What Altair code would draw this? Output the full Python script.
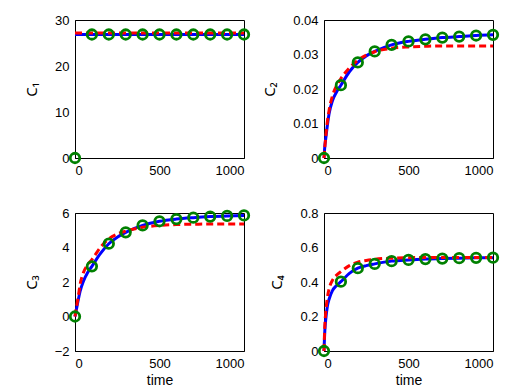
import altair as alt
import pandas as pd

# Time grid used for the continuous curves and the sampled observations
CURVE_T = [0, 5, 10, 20, 30, 50, 75, 100, 150, 200, 250, 300, 400, 500, 600, 700, 800, 900, 1000]
OBS_T = [0, 100, 200, 300, 400, 500, 600, 700, 800, 900, 1000]

# C1: both curves sit on a plateau from the start
c1_model_t = [0, 1000]
c1_model = [26.85, 26.85]
c1_fit_t = [0, 1000]
c1_fit = [27.15, 27.15]
c1_obs = [0, 26.85, 26.85, 26.85, 26.85, 26.85, 26.85, 26.85, 26.85, 26.85, 26.85]

# C2
c2_model = [0, 0.0035, 0.0055, 0.0095, 0.0128, 0.0166, 0.0192, 0.0211, 0.0250, 0.0277, 0.0296,
            0.0309, 0.0328, 0.0338, 0.0344, 0.0349, 0.0352, 0.0355, 0.0357]
c2_fit = [0, 0.0032, 0.0060, 0.0105, 0.0138, 0.0180, 0.0210, 0.0230, 0.0261, 0.0283, 0.0298,
          0.0308, 0.0318, 0.0322, 0.0324, 0.0325, 0.0325, 0.0325, 0.0325]
c2_obs = [0, 0.0211, 0.0277, 0.0309, 0.0328, 0.0338, 0.0344, 0.0349, 0.0352, 0.0355, 0.0357]

# C3
c3_model = [0, 0.25, 0.5, 1.0, 1.45, 2.05, 2.55, 2.91, 3.65, 4.22, 4.6,
            4.88, 5.28, 5.52, 5.65, 5.73, 5.79, 5.83, 5.86]
c3_fit = [0, 0.3, 0.6, 1.2, 1.85, 2.55, 3.0, 3.3, 4.0, 4.5, 4.78,
          4.95, 5.17, 5.28, 5.33, 5.35, 5.36, 5.36, 5.36]
c3_obs = [0, 2.91, 4.22, 4.88, 5.28, 5.52, 5.65, 5.73, 5.79, 5.83, 5.86]

# C4
c4_model = [0, 0.12, 0.18, 0.26, 0.30, 0.35, 0.38, 0.402, 0.45, 0.48, 0.495,
            0.505, 0.521, 0.528, 0.533, 0.536, 0.538, 0.540, 0.541]
c4_fit = [0, 0.15, 0.22, 0.31, 0.36, 0.41, 0.44, 0.46, 0.495, 0.515, 0.525,
          0.532, 0.538, 0.541, 0.542, 0.542, 0.542, 0.542, 0.542]
c4_obs = [0, 0.402, 0.48, 0.505, 0.521, 0.528, 0.533, 0.536, 0.538, 0.540, 0.541]

BLUE = "#0000ff"
RED = "#ff0000"
GREEN = "#008000"
FONT = "Liberation Sans"
TITLE_FONT = "Noto Sans"


def panel(ytitle, model_t, model_v, fit_t, fit_v, obs_v, domain, ticks, label_expr, bottom):
    model_df = pd.DataFrame({"t": model_t, "v": model_v})
    fit_df = pd.DataFrame({"t": fit_t, "v": fit_v})
    obs_df = pd.DataFrame({"t": OBS_T, "v": obs_v})

    x_axis = dict(values=[0, 500, 1000], format="d")
    if bottom:
        x_axis["title"] = "time"
    else:
        x_axis["title"] = None
    x = alt.X("t:Q", scale=alt.Scale(domain=[0, 1000], nice=False, zero=False),
              axis=alt.Axis(**x_axis))
    y = alt.Y("v:Q", scale=alt.Scale(domain=domain, nice=False, zero=False),
              axis=alt.Axis(values=ticks, labelExpr=label_expr, title=ytitle))

    model = alt.Chart(model_df).mark_line(
        color=BLUE, strokeWidth=3, interpolate="monotone"
    ).encode(x=x, y=y)
    fit = alt.Chart(fit_df).mark_line(
        color=RED, strokeWidth=3, strokeDash=[7, 4], interpolate="monotone"
    ).encode(x=x, y=y)
    obs = alt.Chart(obs_df).mark_point(
        shape="circle", size=90, filled=False, color=GREEN, strokeWidth=2.8, opacity=1
    ).encode(x=x, y=y)
    return alt.layer(model, fit, obs).properties(width=169, height=138)


p1 = panel("C₁", c1_model_t, c1_model, c1_fit_t, c1_fit, c1_obs,
           [0, 30], [0, 10, 20, 30], "format(datum.value, 'd')", False)
p2 = panel("C₂", CURVE_T, c2_model, CURVE_T, c2_fit, c2_obs,
           [0, 0.04], [0, 0.01, 0.02, 0.03, 0.04],
           "datum.value == 0 ? '0' : format(datum.value, '.2f')", False)
p3 = panel("C₃", CURVE_T, c3_model, CURVE_T, c3_fit, c3_obs,
           [-2, 6], [-2, 0, 2, 4, 6], "format(datum.value, 'd')", True)
p4 = panel("C₄", CURVE_T, c4_model, CURVE_T, c4_fit, c4_obs,
           [0, 0.8], [0, 0.2, 0.4, 0.6, 0.8],
           "datum.value == 0 ? '0' : format(datum.value, '.1f')", True)

chart = alt.concat(
    p1, p2, p3, p4, columns=2, spacing={"row": 55, "column": 80}, bounds="flush"
).properties(
    padding={"left": 23, "top": 13, "right": 5, "bottom": 0}
).configure_view(
    stroke="black", strokeWidth=1
).configure_axis(
    labelFont=FONT, labelFontSize=13, labelColor="black",
    titleFont=TITLE_FONT, titleFontSize=15, titleFontWeight="normal", titleColor="black",
    domainColor="black", domainWidth=1, ticks=False, grid=False, labelPadding=6
).configure_axisY(
    titlePadding=15
).configure_axisX(
    titlePadding=3, titleFont=FONT, titleFontSize=14
)

chart.save("out.html", embed_options={"renderer": "svg", "actions": False})
